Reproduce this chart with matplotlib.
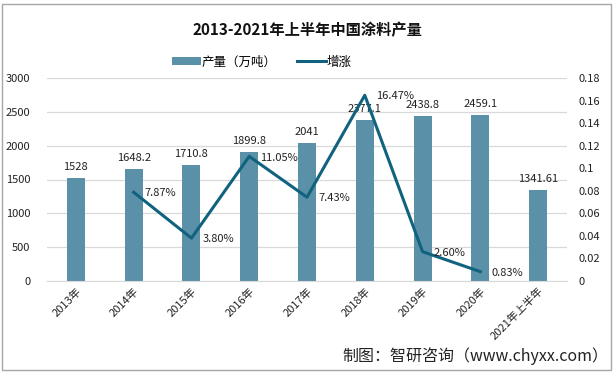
import matplotlib.pyplot as plt
from matplotlib.patches import Rectangle

plt.rcParams['font.family'] = ['Noto Sans CJK SC', 'DejaVu Sans']

categories = ["2013年", "2014年", "2015年", "2016年", "2017年",
              "2018年", "2019年", "2020年", "2021年上半年"]
output = [1528, 1648.2, 1710.8, 1899.8, 2041, 2377.1, 2438.8, 2459.1, 1341.61]
output_labels = ["1528", "1648.2", "1710.8", "1899.8", "2041",
                 "2377.1", "2438.8", "2459.1", "1341.61"]
growth_idx = [1, 2, 3, 4, 5, 6, 7]
growth = [0.0787, 0.0380, 0.1105, 0.0743, 0.1647, 0.0260, 0.0083]
growth_labels = ["7.87%", "3.80%", "11.05%", "7.43%", "16.47%", "2.60%", "0.83%"]

bar_color = "#5B91A8"
line_color = "#10627F"

fig = plt.figure(figsize=(6.14, 3.73), dpi=100)
ax = fig.add_axes([47 / 614, 1 - 281 / 373, 520 / 614, 203 / 373])

x = list(range(len(categories)))
ax.bar(x, output, width=0.31, color=bar_color, zorder=2, label="产量（万吨）")
ax.set_xlim(-0.5, len(categories) - 0.5)
ax.set_ylim(0, 3000)
ax.set_yticks(range(0, 3001, 500))
ax.grid(axis="y", color="#D9D9D9", linewidth=0.9, zorder=0)
for s in ["top", "right", "left"]:
    ax.spines[s].set_visible(False)
ax.spines["bottom"].set_color("#D9D9D9")
ax.tick_params(axis="both", length=0, labelsize=8, colors="#222222")
ax.tick_params(axis="y", pad=12)
ax.set_xticks(x)
ax.set_xticklabels(categories, rotation=45, ha="right", rotation_mode="anchor", fontsize=8)

for xi, v, t in zip(x, output, output_labels):
    ax.text(xi, v + 90, t, ha="center", va="bottom", fontsize=8, color="#222222", zorder=4)

ax2 = ax.twinx()
ax2.plot(growth_idx, growth, color=line_color, linewidth=2.2, zorder=3, label="增涨")
ax2.set_ylim(0, 0.18)
ax2.set_yticks([0, 0.02, 0.04, 0.06, 0.08, 0.1, 0.12, 0.14, 0.16, 0.18])
ax2.set_yticklabels(["0", "0.02", "0.04", "0.06", "0.08", "0.1", "0.12", "0.14", "0.16", "0.18"])
for s in ["top", "right", "left", "bottom"]:
    ax2.spines[s].set_visible(False)
ax2.tick_params(axis="y", length=0, labelsize=8, colors="#222222", pad=8)

for xi, v, t in zip(growth_idx, growth, growth_labels):
    ax2.text(xi + 0.19, v - 0.001, t, ha="left", va="center", fontsize=8, color="#222222", zorder=4)

h1, l1 = ax.get_legend_handles_labels()
h2, l2 = ax2.get_legend_handles_labels()
fig.legend(h1 + h2, l1 + l2, loc="center", bbox_to_anchor=(262 / 614, 1 - 62 / 373),
           ncol=2, frameon=False, fontsize=9, handlelength=2.3, handleheight=0.6,
           columnspacing=1.6, handletextpad=0.1)

fig.text(0.5, 1 - 30 / 373, "2013-2021年上半年中国涂料产量", ha="center", va="center",
         fontsize=11, fontweight="bold", color="#111111")
fig.text(608 / 614, 1 - 356 / 373, "制图：智研咨询（www.chyxx.com）", ha="right", va="center",
         fontsize=11.5, color="#222222")

fig.patches.append(Rectangle((2 / 614, 3 / 373), 609 / 614, 366 / 373, transform=fig.transFigure,
                             fill=False, edgecolor="#A6A6A6", linewidth=1))

fig.savefig("out.png", dpi=100)
